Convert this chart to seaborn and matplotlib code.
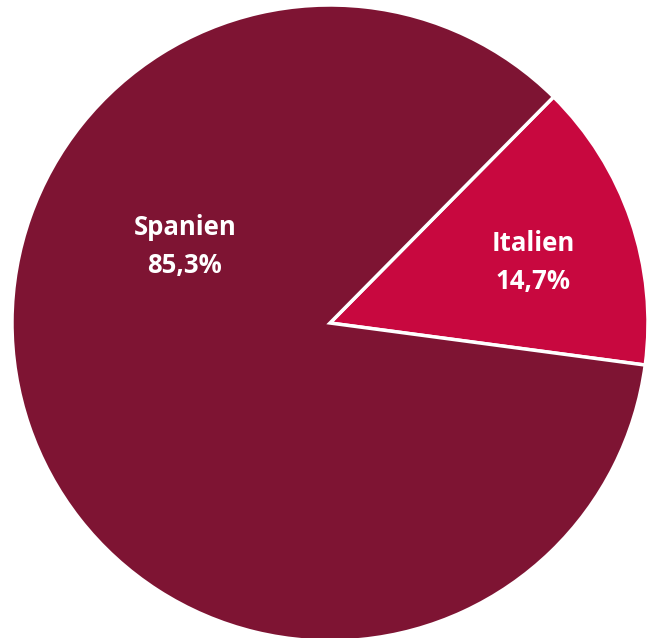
import matplotlib
matplotlib.use("Agg")
import matplotlib.pyplot as plt
import seaborn as sns

countries = ["Italien", "Spanien"]
shares = [14.7, 85.3]
colors = ["#C8083F", "#7E1433"]
label_pos = {"Spanien": (-0.456, 0.24), "Italien": (0.64, 0.19)}

sns.set_theme(style="white")
plt.rcParams["font.family"] = ["Open Sans", "DejaVu Sans"]

fig = plt.figure(figsize=(6.5, 6.38), dpi=100)
ax = fig.add_axes([0, 0, 1, 1])
ax.pie(shares, colors=colors, startangle=-7.6, counterclock=True,
       radius=1.0, center=(0, 0),
       wedgeprops=dict(edgecolor="white", linewidth=2.5))
ax.set_xlim(-330 / 318, 320 / 318)
ax.set_ylim(-(638 - 323) / 318, 323 / 318)
ax.set_aspect("auto")
ax.axis("off")

for name, val in zip(countries, shares):
    x, y = label_pos[name]
    txt = f"{name}\n{val:.1f}%".replace(".", ",")
    ax.text(x, y, txt, ha="center", va="center", color="white",
            fontsize=18.5, fontweight="bold", linespacing=1.5)

fig.savefig("out.png", dpi=100, facecolor="white")
